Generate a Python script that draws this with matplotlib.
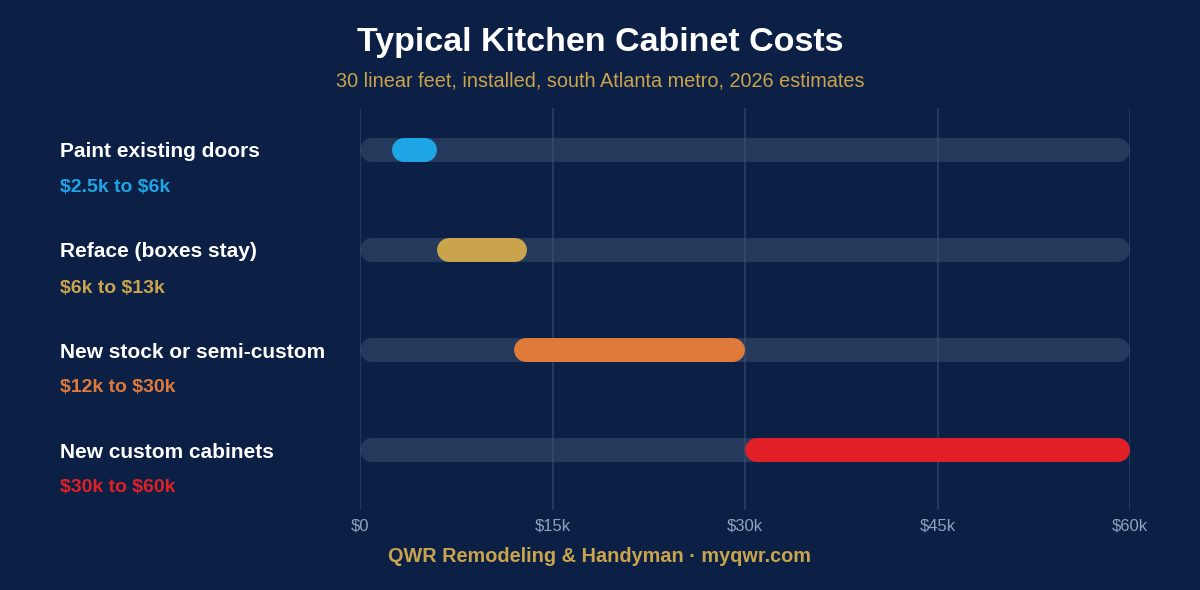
import matplotlib.pyplot as plt

plt.rcParams['font.family'] = ['Liberation Sans', 'DejaVu Sans']
plt.rcParams['text.parse_math'] = False

# data
categories = ['Paint existing doors', 'Reface (boxes stay)', 'New stock or semi-custom', 'New custom cabinets']
low_k = [2.5, 6, 12, 30]
high_k = [6, 13, 30, 60]
range_labels = ['$2.5k to $6k', '$6k to $13k', '$12k to $30k', '$30k to $60k']
bar_colors = ['#1ea5e6', '#c9a44c', '#e07a3a', '#e01f26']
tick_vals = [0, 15, 30, 45, 60]
tick_labels = ['$0', '$15k', '$30k', '$45k', '$60k']

bg = '#0c1f45'
W, H, dpi = 1200, 590, 100
fig = plt.figure(figsize=(W / dpi, H / dpi), dpi=dpi, facecolor=bg)
ax = fig.add_axes([360 / W, 1 - 510 / H, 770 / W, 402 / H], facecolor=bg)
ax.set_xlim(0, 60)
ax.set_ylim(3.6, -0.42)

lw = 24 * 72 / dpi          # 24 px thick bars
r = 12 * 60 / 770           # cap radius in data units

for v in tick_vals:
    ax.axvline(v, color='#3d5479', lw=1.2, alpha=0.6, zorder=1.5)

for i, cat in enumerate(categories):
    ax.plot([0 + r, 60 - r], [i, i], color='#24395c', lw=lw, solid_capstyle='round', zorder=1)
    ax.plot([low_k[i] + r, high_k[i] - r], [i, i], color=bar_colors[i], lw=lw,
            solid_capstyle='round', zorder=2)
    fig.text(60 / W, 1 - (152 + 100 * i) / H, cat, color='white', fontsize=15,
             fontweight='bold', va='center', ha='left')
    fig.text(60 / W, 1 - (188 + 100 * i) / H, range_labels[i], color=bar_colors[i],
             fontsize=14, fontweight='bold', va='center', ha='left')

ax.set_xticks(tick_vals)
ax.set_xticklabels(tick_labels, color='#8fa3c0', fontsize=12)
ax.tick_params(axis='x', length=0, pad=6)
ax.set_yticks([])
for s in ax.spines.values():
    s.set_visible(False)

fig.text(0.5, 1 - 43 / H, 'Typical Kitchen Cabinet Costs', color='white', fontsize=24.5,
         fontweight='bold', ha='center', va='center')
fig.text(0.5, 1 - 81 / H, '30 linear feet, installed, south Atlanta metro, 2026 estimates',
         color='#c9a44c', fontsize=14.3, ha='center', va='center')
fig.text(0.5, 1 - 557 / H, 'QWR Remodeling & Handyman · myqwr.com', color='#c9a44c',
         fontsize=14.3, fontweight='bold', ha='center', va='center')

fig.savefig('out.png', dpi=dpi, facecolor=bg)
